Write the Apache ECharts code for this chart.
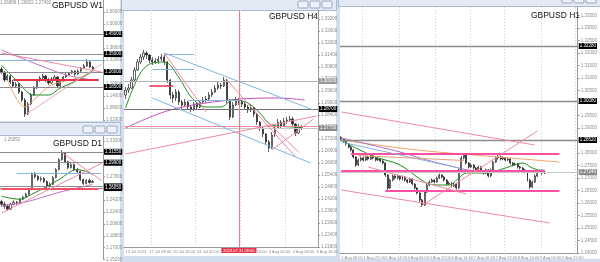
<!DOCTYPE html>
<html lang="en">
<head>
<meta charset="UTF-8">
<title>GBPUSD</title>
<style>
html,body{margin:0;padding:0;background:#d3deec;}
#main{width:600px;height:262px;}
</style>
</head>
<body>
<div id="main"></div>
<script src="https://cdn.jsdelivr.net/npm/echarts@6/dist/echarts.min.js"></script>
<script>
// candles are [open, close, low, high]
var w1Candles = [
  [1.275,1.26,1.25,1.285],[1.26,1.22,1.21,1.265],[1.22,1.24,1.215,1.25],[1.24,1.21,1.20,1.245],
  [1.21,1.19,1.18,1.22],[1.19,1.20,1.18,1.21],[1.20,1.16,1.15,1.205],[1.16,1.12,1.11,1.165],
  [1.12,1.05,1.035,1.13],[1.05,1.10,1.045,1.11],[1.10,1.145,1.095,1.155],[1.145,1.18,1.14,1.19],
  [1.18,1.22,1.175,1.225],[1.22,1.23,1.21,1.24],[1.23,1.24,1.22,1.25],[1.24,1.22,1.21,1.245],
  [1.22,1.205,1.195,1.23],[1.205,1.225,1.20,1.235],[1.225,1.235,1.215,1.245],[1.235,1.19,1.185,1.24],
  [1.19,1.215,1.185,1.22],[1.215,1.235,1.21,1.24],[1.235,1.245,1.23,1.255],[1.245,1.255,1.24,1.26],
  [1.255,1.265,1.25,1.27],[1.265,1.25,1.24,1.27],[1.25,1.265,1.245,1.275],[1.265,1.28,1.26,1.285],
  [1.28,1.29,1.275,1.30],[1.29,1.31,1.285,1.325],[1.31,1.285,1.28,1.315],[1.285,1.27,1.265,1.29]
];
var w1Slots = 35;
var w1Green = [[0,1.295],[5,1.22],[11,1.145],[16,1.145],[20,1.18],[26,1.22],[31,1.265]];
var w1Orange = [[2,1.22],[8,1.085],[11,1.12],[17,1.195],[26,1.23],[31,1.265]];
var w1Purple = [[0,1.37],[11,1.305],[22,1.245],[31,1.22]];
var w1Ticks = {min: 1.02, max: 1.62, step: 0.06};

var d1Candles = [
  [1.24,1.236,1.232,1.243],[1.236,1.233,1.229,1.240],[1.233,1.2285,1.226,1.236],[1.2285,1.236,1.227,1.238],
  [1.236,1.239,1.234,1.242],[1.239,1.2375,1.235,1.241],[1.2375,1.2435,1.236,1.245],[1.2435,1.2465,1.242,1.249],
  [1.2465,1.251,1.245,1.253],[1.251,1.2585,1.249,1.260],[1.2585,1.281,1.257,1.284],[1.281,1.278,1.275,1.285],
  [1.278,1.2735,1.271,1.280],[1.2735,1.275,1.270,1.278],[1.275,1.2705,1.268,1.277],[1.2705,1.263,1.260,1.272],
  [1.263,1.266,1.261,1.269],[1.266,1.2765,1.265,1.279],[1.2765,1.2885,1.275,1.291],[1.2885,1.3035,1.287,1.306],
  [1.3035,1.314,1.302,1.318],[1.314,1.3005,1.298,1.315],[1.3005,1.2915,1.289,1.302],[1.2915,1.296,1.290,1.299],
  [1.296,1.2885,1.286,1.298],[1.2885,1.2855,1.283,1.291],[1.2855,1.2735,1.271,1.287],[1.2735,1.2675,1.265,1.275],
  [1.2675,1.272,1.266,1.274],[1.272,1.269,1.267,1.275],[1.269,1.2705,1.268,1.273]
];
var d1Slots = 34;
var d1Green = [[0,1.248],[6,1.2435],[10,1.251],[15,1.263],[19,1.2735],[25,1.2885],[28,1.2855],[30,1.281]];
var d1Purple = [[0,1.233],[9,1.2405],[19,1.254],[26,1.2615],[30,1.266]];
var d1Ticks = {min: 1.152, max: 1.3395, step: 0.018};

var h4Candles = [
  [1.294,1.2965,1.292,1.298],[1.2965,1.2975,1.295,1.2995],[1.2975,1.3015,1.297,1.303],[1.3015,1.3065,1.301,1.308],
  [1.3065,1.3105,1.306,1.312],[1.3105,1.313,1.3095,1.3145],[1.313,1.315,1.3115,1.3165],[1.315,1.314,1.312,1.316],
  [1.314,1.3115,1.310,1.3145],[1.3115,1.3105,1.309,1.313],[1.3105,1.311,1.3095,1.3125],[1.311,1.312,1.3095,1.3135],
  [1.312,1.313,1.311,1.3145],[1.313,1.3105,1.309,1.314],[1.3105,1.3015,1.300,1.311],[1.3015,1.294,1.292,1.302],
  [1.294,1.2925,1.290,1.2955],[1.2925,1.2955,1.291,1.297],[1.2955,1.2905,1.289,1.2965],[1.2905,1.289,1.287,1.2915],
  [1.289,1.2905,1.288,1.292],[1.2905,1.288,1.2865,1.291],[1.288,1.287,1.2855,1.289],[1.287,1.2895,1.286,1.2905],
  [1.2895,1.288,1.2865,1.290],[1.288,1.2905,1.2875,1.2915],[1.2905,1.2915,1.2895,1.293],[1.2915,1.292,1.290,1.2935],
  [1.292,1.294,1.291,1.2955],[1.294,1.2955,1.293,1.297],[1.2955,1.2975,1.295,1.299],[1.2975,1.299,1.2965,1.3005],
  [1.299,1.2985,1.297,1.300],[1.2985,1.3015,1.298,1.303],[1.3015,1.2915,1.290,1.302],[1.2915,1.283,1.2815,1.292],
  [1.283,1.289,1.2825,1.2905],[1.289,1.2915,1.2885,1.293],[1.2915,1.2905,1.289,1.2925],[1.2905,1.2895,1.288,1.2915],
  [1.2895,1.288,1.2865,1.2905],[1.288,1.2865,1.285,1.289],[1.2865,1.2875,1.2855,1.289],[1.2875,1.2845,1.283,1.288],
  [1.2845,1.2805,1.279,1.285],[1.2805,1.2775,1.276,1.281],[1.2775,1.2745,1.273,1.278],[1.2745,1.2705,1.269,1.275],
  [1.2705,1.2675,1.2655,1.2715],[1.2675,1.274,1.267,1.2755],[1.274,1.2775,1.273,1.279],[1.2775,1.2805,1.277,1.282],
  [1.2805,1.2785,1.277,1.2815],[1.2785,1.281,1.278,1.2825],[1.281,1.2815,1.2795,1.283],[1.2815,1.282,1.2805,1.2835],
  [1.282,1.2795,1.2785,1.283],[1.2795,1.275,1.2735,1.280],[1.275,1.278,1.2745,1.2795],[1.278,1.2775,1.2765,1.279]
];
var h4Slots = 65;
var h4Green = [[0,1.2875],[5,1.305],[9,1.31],[13,1.3105],[18,1.3025],[22,1.293],[27,1.288],[32,1.288],[36,1.2915],[41,1.29],[45,1.285],[49,1.279],[56,1.278],[59,1.2775]];
var h4Purple = [[0,1.2775],[15,1.2865],[35,1.2915],[51,1.2925],[60,1.2915]];
var h4Ticks = {min: 1.218, max: 1.3365, step: 0.006};
var h4TimeLabels = ['13 Jul 2023','17 Jul 08:00','20 Jul 16:00','24 Jul 00:00','27 Jul 08:00','31 Jul 16:00','3 Aug 00:00','4 Aug 08:00','8 Aug 16:00'];
var h4GridAt = [9, 24, 39, 54];

var h1Candles = [
  [1.2862,1.2856,1.2850,1.2868],[1.2856,1.2848,1.2842,1.2860],[1.2848,1.2836,1.2830,1.2852],[1.2836,1.2824,1.2818,1.2840],
  [1.2824,1.2812,1.2806,1.2828],[1.2812,1.2784,1.2778,1.2816],[1.2784,1.2752,1.2744,1.2788],[1.2752,1.2772,1.2748,1.2778],
  [1.2772,1.2780,1.2766,1.2786],[1.2780,1.2772,1.2766,1.2786],[1.2772,1.2784,1.2768,1.2790],[1.2784,1.2776,1.2770,1.2790],
  [1.2776,1.2788,1.2772,1.2794],[1.2788,1.2780,1.2774,1.2792],[1.2780,1.2772,1.2766,1.2784],[1.2772,1.2776,1.2768,1.2782],
  [1.2776,1.2768,1.2762,1.2780],[1.2768,1.2760,1.2754,1.2772],[1.2760,1.2712,1.2704,1.2764],[1.2712,1.2660,1.2652,1.2716],
  [1.2660,1.2692,1.2656,1.2698],[1.2692,1.2708,1.2686,1.2714],[1.2708,1.2700,1.2694,1.2714],[1.2700,1.2708,1.2694,1.2714],
  [1.2708,1.2696,1.2690,1.2712],[1.2696,1.2704,1.2690,1.2710],[1.2704,1.2692,1.2686,1.2708],[1.2692,1.2684,1.2678,1.2696],
  [1.2684,1.2696,1.2680,1.2702],[1.2696,1.2676,1.2670,1.2700],[1.2676,1.2660,1.2654,1.2680],[1.2660,1.2640,1.2634,1.2664],
  [1.2640,1.2612,1.2604,1.2644],[1.2612,1.2592,1.2584,1.2616],[1.2592,1.2644,1.2588,1.2650],[1.2644,1.2672,1.2640,1.2678],
  [1.2672,1.2684,1.2668,1.2690],[1.2684,1.2692,1.2680,1.2698],[1.2692,1.2684,1.2678,1.2696],[1.2684,1.2700,1.2680,1.2706],
  [1.2700,1.2712,1.2696,1.2718],[1.2712,1.2704,1.2698,1.2716],[1.2704,1.2692,1.2686,1.2708],[1.2692,1.2676,1.2670,1.2696],
  [1.2676,1.2680,1.2672,1.2686],[1.2680,1.2668,1.2662,1.2684],[1.2668,1.2676,1.2664,1.2682],[1.2676,1.2660,1.2654,1.2680],
  [1.2660,1.2732,1.2656,1.2738],[1.2732,1.2780,1.2728,1.2788],[1.2780,1.2792,1.2774,1.2800],[1.2792,1.2760,1.2754,1.2796],
  [1.2760,1.2744,1.2738,1.2764],[1.2744,1.2752,1.2740,1.2758],[1.2752,1.2740,1.2734,1.2756],[1.2740,1.2732,1.2726,1.2744],
  [1.2732,1.2744,1.2728,1.2750],[1.2744,1.2728,1.2722,1.2748],[1.2728,1.2720,1.2714,1.2732],[1.2720,1.2732,1.2716,1.2738],
  [1.2732,1.2708,1.2702,1.2736],[1.2708,1.2732,1.2704,1.2738],[1.2732,1.2764,1.2728,1.2770],[1.2764,1.2780,1.2760,1.2786],
  [1.2780,1.2784,1.2774,1.2792],[1.2784,1.2776,1.2770,1.2790],[1.2776,1.2780,1.2772,1.2786],[1.2780,1.2772,1.2766,1.2784],
  [1.2772,1.2776,1.2768,1.2782],[1.2776,1.2760,1.2754,1.2780],[1.2760,1.2752,1.2746,1.2764],[1.2752,1.2756,1.2748,1.2762],
  [1.2756,1.2744,1.2738,1.2760],[1.2744,1.2740,1.2734,1.2748],[1.2740,1.2732,1.2726,1.2744],[1.2732,1.2724,1.2718,1.2736],
  [1.2724,1.2692,1.2686,1.2728],[1.2692,1.2664,1.2656,1.2696],[1.2664,1.2684,1.2660,1.2690],[1.2684,1.2708,1.2680,1.2714],
  [1.2708,1.2724,1.2704,1.2730],[1.2724,1.2728,1.2720,1.2734],[1.2728,1.2720,1.2714,1.2734],[1.2720,1.2724,1.2716,1.2730]
];
var h1Slots = 97;
var h1Green = [[0,1.2852],[6,1.282],[14,1.2784],[24,1.2752],[34,1.2684],[39,1.2672],[44,1.2672],[48,1.27],[51,1.272],[59,1.272],[67,1.274],[74,1.276],[78,1.274],[83,1.2724]];
var h1Orange = [[0,1.2852],[31,1.2812],[64,1.2784],[89,1.2764]];
var h1Purple = [[0,1.286],[24,1.2804],[38,1.2764],[60,1.2724],[83,1.2732]];
var h1Ticks = {min: 1.24, max: 1.3384, step: 0.005};
var h1TimeLabels = ['1 Aug 06:00','1 Aug 22:00','2 Aug 14:00','3 Aug 06:00','3 Aug 22:00','4 Aug 14:00','7 Aug 06:00','7 Aug 22:00','8 Aug 14:00','9 Aug 06:00','9 Aug 22:00'];
var h1GridAt = [9, 24, 39, 53, 67, 82, 96];

var FONT = 'Liberation Sans';
var GRAY = '#8c8c8c', PINK = '#f08aa0', HOT = '#ff4fa3', BLUE = '#86b4e0', RED = '#e8324a';
var SMALL = 4.5, TINY = 4;

function box(bg) {
  return {show: true, position: 'end', distance: 1, fontSize: SMALL, fontFamily: FONT, color: '#fff',
    backgroundColor: bg, padding: [1, 1, 0, 1],
    formatter: function (p) { return (+p.value).toFixed(5); }};
}
function level(v, color, width, bg) {
  return {yAxis: v, lineStyle: {color: color, width: width, type: 'solid'}, label: bg ? box(bg) : {show: false}};
}
function seg(a, b, color, width) {
  return [{coord: a, lineStyle: {color: color, width: width || 1, type: 'solid'}}, {coord: b}];
}

var w1Lines = [
  level(1.45, GRAY, 1.2, '#000'), level(1.35, GRAY, 1.2, '#000'), level(1.26, GRAY, 1.2, '#000'), level(1.185, GRAY, 1.2, '#000'),
  level(1.32, BLUE, 1),
  seg([4, 1.22], [33, 1.22], RED, 2),
  seg([0, 1.355], [34, 1.26], PINK, 1),
  seg([8, 1.045], [34, 1.30], '#f6a8b8', 1)
];
var d1Lines = [
  level(1.3155, GRAY, 1.2, '#000'), level(1.299, GRAY, 1.2, '#000'), level(1.263, GRAY, 1, '#000'), level(1.2605, GRAY, 1, '#000'),
  seg([5, 1.2825], [33, 1.2825], BLUE, 1),
  seg([0, 1.2595], [32, 1.2595], '#f0506a', 2),
  seg([0, 1.2225], [33, 1.2978], PINK, 1),
  seg([20, 1.314], [33, 1.272], PINK, 1)
];
var h4Lines = [
  level(1.287, '#707070', 1.2, '#000'), level(1.301, '#b0b0b0', 1, '#9a9a9a'), level(1.2775, '#c8c8c8', 1, '#8a8a8a'),
  level(1.2785, PINK, 1),
  seg([8, 1.2985], [16, 1.2985], RED, 1.5),
  seg([13, 1.3145], [23, 1.3145], BLUE, 1),
  seg([9, 1.307], [23, 1.307], BLUE, 1),
  seg([21, 1.2915], [38, 1.2915], BLUE, 1),
  seg([13, 1.315], [63, 1.2865], BLUE, 1),
  seg([9, 1.2925], [62, 1.26], BLUE, 1),
  seg([13, 1.315], [27, 1.2855], PINK, 1),
  seg([34, 1.3015], [57, 1.263], PINK, 1),
  seg([0, 1.2645], [64, 1.2835], PINK, 1),
  seg([47, 1.2815], [58, 1.2655], PINK, 1),
  seg([49, 1.2665], [63, 1.282], PINK, 1),
  {xAxis: 38, lineStyle: {color: '#f47a8a', width: 1, type: 'solid'},
    label: {show: true, position: 'start', distance: 1, formatter: '2023.07.31 08:00', fontSize: TINY, fontFamily: FONT,
      color: '#fff', backgroundColor: RED, padding: [1, 2, 0, 2]}}
];
var h1Lines = [
  level(1.3228, GRAY, 1.3, '#000'), level(1.3008, GRAY, 1.3, '#000'), level(1.2852, GRAY, 1.3, '#000'),
  level(1.2724, '#c8c8c8', 1, '#8a8a8a'),
  seg([4, 1.2796], [89, 1.2796], HOT, 2),
  seg([0, 1.2728], [83, 1.2728], HOT, 2),
  seg([18, 1.2648], [89, 1.2648], HOT, 2),
  seg([0, 1.2964], [79, 1.2832], PINK, 1),
  seg([0, 1.2844], [48, 1.274], BLUE, 1),
  seg([0, 1.2652], [85, 1.252], PINK, 1),
  seg([32, 1.2584], [80, 1.2888], PINK, 1),
  seg([11, 1.2744], [51, 1.2636], PINK, 1),
  seg([7, 1.2790], [50, 1.2770], '#e0a080', 1)
];

function slots(n) {
  var out = [];
  for (var i = 0; i < n; i++) out.push(String(i));
  return out;
}
function timeAxis(k, n, labels, every, gridAt, show) {
  return {
    type: 'category', gridIndex: k, data: slots(n), boundaryGap: true,
    axisLine: {show: show, lineStyle: {color: '#9a9a9a', width: 1}},
    axisTick: {show: false},
    axisLabel: {show: show, fontSize: TINY, fontFamily: FONT, color: GRAY, align: 'left', margin: 3,
      showMinLabel: true,
      interval: function (i) { return i % every === 0; },
      formatter: function (v, i) { return labels[i / every] || ''; }},
    splitLine: {show: gridAt.length > 0, interval: function (i) { return gridAt.indexOf(i) >= 0; },
      lineStyle: {color: '#cfcfcf', width: 1, type: [1, 2]}}
  };
}
function priceAxis(k, t) {
  return {
    type: 'value', gridIndex: k, position: 'right', min: t.min, max: t.max, interval: t.step,
    axisLine: {show: true, lineStyle: {color: '#9a9a9a', width: 1}},
    axisTick: {show: true, length: 2, lineStyle: {color: '#9a9a9a'}},
    axisLabel: {fontSize: SMALL, fontFamily: FONT, color: GRAY, margin: 3, showMaxLabel: false,
      formatter: function (v) { return v.toFixed(5); }},
    splitLine: {show: false}
  };
}
function candles(k, data, lines) {
  return {
    type: 'candlestick', xAxisIndex: k, yAxisIndex: k, data: data, barWidth: '60%', silent: true,
    itemStyle: {color: '#ffffff', color0: '#222222', borderColor: '#222222', borderColor0: '#222222', borderWidth: 0.7},
    markLine: {silent: true, symbol: ['none', 'none'], animation: false, precision: 5, label: {show: false}, data: lines}
  };
}
function ma(k, pts, color) {
  return {type: 'line', xAxisIndex: k, yAxisIndex: k, data: pts, smooth: 0.35, symbol: 'none', silent: true,
    lineStyle: {color: color, width: 1}, z: 3};
}
function titleAt(text, right, top) {
  return {text: text, right: right, top: top, padding: 0,
    textStyle: {fontSize: 8.5, fontWeight: 'normal', color: '#111', fontFamily: FONT}};
}
function buttons(x0, y0, h) {
  var out = [];
  for (var i = 0; i < 3; i++) {
    out.push({type: 'rect', z: -1, shape: {x: x0 + i * 12, y: y0, width: 10, height: h, r: 1},
      style: {fill: '#eef2f8', stroke: '#8597b0', lineWidth: 0.8}});
  }
  return out;
}

var windows = [
  {type: 'rect', z: -5, shape: {x: 0, y: 0, width: 120, height: 121}, style: {fill: '#fff'}},
  {type: 'rect', z: -5, shape: {x: -1, y: 122.5, width: 121.5, height: 13}, style: {fill: '#e3eaf4', stroke: '#a9b9cf', lineWidth: 1}},
  {type: 'rect', z: -5, shape: {x: 0, y: 136, width: 120, height: 126}, style: {fill: '#fff'}},
  {type: 'rect', z: -5, shape: {x: 121.5, y: -1, width: 215, height: 11.5}, style: {fill: '#e3eaf4', stroke: '#a9b9cf', lineWidth: 1}},
  {type: 'rect', z: -5, shape: {x: 124, y: 11, width: 212, height: 245}, style: {fill: '#fff'}},
  {type: 'rect', z: -5, shape: {x: 338.5, y: -1, width: 262, height: 7.5}, style: {fill: '#e3eaf4', stroke: '#a9b9cf', lineWidth: 1}},
  {type: 'rect', z: -5, shape: {x: 340, y: 7, width: 260, height: 252}, style: {fill: '#fff'}},
  {type: 'text', z: 5, left: 0, top: 0, style: {text: '1.26888 1.26832 1.27492', fontSize: SMALL, fill: '#8c8c8c', fontFamily: FONT}},
  {type: 'text', z: 5, left: 4, top: 137, style: {text: '1.26952', fontSize: SMALL, fill: '#8c8c8c', fontFamily: FONT}}
].concat(buttons(83, 126, 7), buttons(298, 1, 7), buttons(562, -3, 6));

var chart = echarts.init(document.getElementById('main'));
chart.setOption({
  animation: false,
  backgroundColor: '#d3deec',
  title: [
    titleAt('GBPUSD W1', 497, 1),
    titleAt('GBPUSD D1', 498, 139),
    titleAt('GBPUSD H4', 282, 12),
    titleAt('GBPUSD H1', 20, 11)
  ],
  graphic: windows,
  grid: [
    {left: 0, top: 0, width: 103, height: 120},
    {left: 0, top: 136, width: 103, height: 125},
    {left: 124, top: 10, width: 194, height: 237},
    {left: 340, top: 7, width: 242, height: 246}
  ],
  xAxis: [
    timeAxis(0, w1Slots, [], 1000, [], false),
    timeAxis(1, d1Slots, [], 1000, [], false),
    timeAxis(2, h4Slots, h4TimeLabels, 8, h4GridAt, true),
    timeAxis(3, h1Slots, h1TimeLabels, 9, h1GridAt, true)
  ],
  yAxis: [priceAxis(0, w1Ticks), priceAxis(1, d1Ticks), priceAxis(2, h4Ticks), priceAxis(3, h1Ticks)],
  series: [
    candles(0, w1Candles, w1Lines),
    ma(0, w1Purple, '#c070c8'), ma(0, w1Orange, '#f2a46a'), ma(0, w1Green, '#1e8c1e'),
    candles(1, d1Candles, d1Lines),
    ma(1, d1Purple, '#c070c8'), ma(1, d1Green, '#1e8c1e'),
    candles(2, h4Candles, h4Lines),
    ma(2, h4Purple, '#c050c0'), ma(2, h4Green, '#1e8c1e'),
    candles(3, h1Candles, h1Lines),
    ma(3, h1Orange, '#f2a46a'), ma(3, h1Purple, '#b070c0'), ma(3, h1Green, '#1e8c1e')
  ]
});
</script>
</body>
</html>
